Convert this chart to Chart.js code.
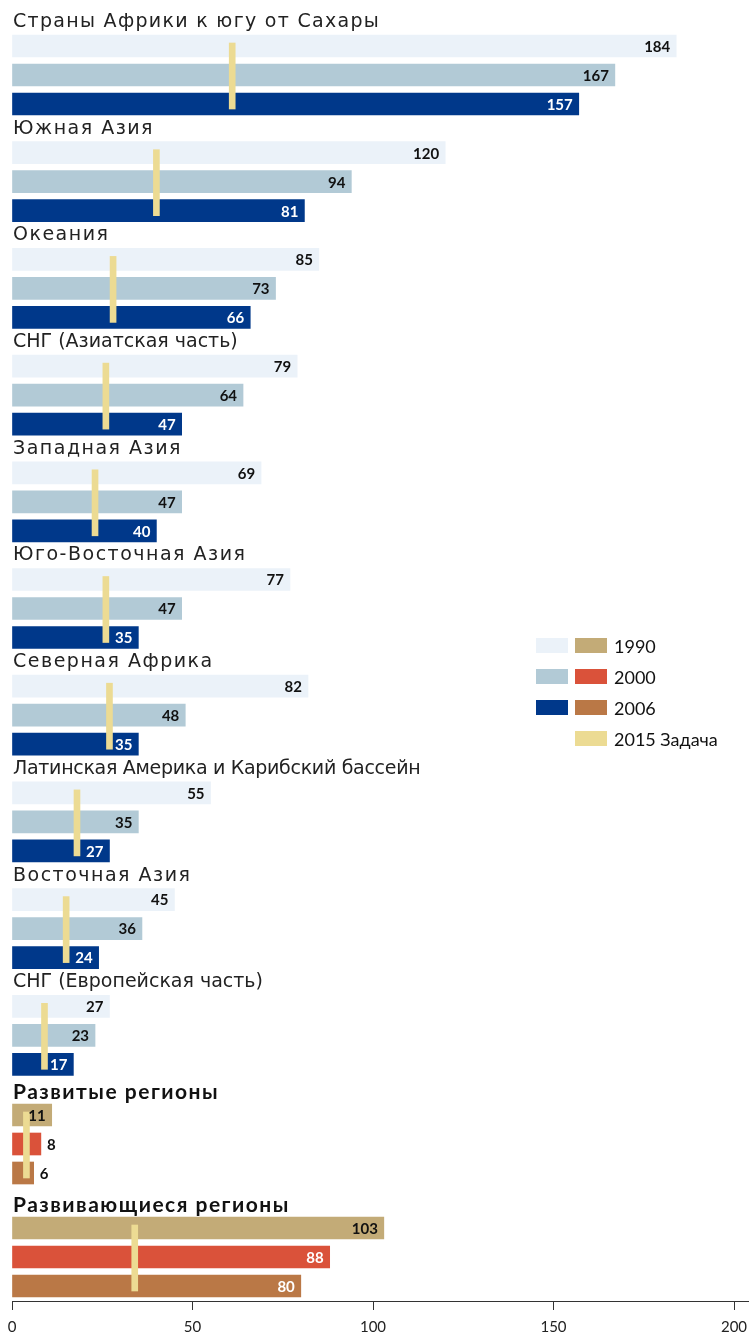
<!DOCTYPE html>
<html>
<head>
<meta charset="utf-8">
<script src="https://cdn.jsdelivr.net/npm/chart.js@4"></script>
<style>
  body { margin: 0; background: #fff; }
  #wrap { position: relative; width: 749px; height: 1336px; }
  #legend { position: absolute; left: 536px; top: 630px; font: 18px Lato, sans-serif; color: #111; }
  .row { display: flex; align-items: center; height: 31px; }
  .sw { width: 32px; height: 15px; margin-right: 7px; }
</style>
</head>
<body>
<div id="wrap">
  <canvas id="chart" width="749" height="1336"></canvas>
  <div id="legend"></div>
</div>
<script>
const regions = [
    'Страны Африки к югу от Сахары', 'Южная Азия', 'Океания', 'СНГ (Азиатская часть)',
    'Западная Азия', 'Юго-Восточная Азия', 'Северная Африка',
    'Латинская Америка и Карибский бассейн', 'Восточная Азия', 'СНГ (Европейская часть)',
    'Развитые регионы', 'Развивающиеся регионы'
];
const values1990 = [184, 120, 85, 79, 69, 77, 82, 55, 45, 27, 11, 103];
const values2000 = [167, 94, 73, 64, 47, 47, 48, 35, 36, 23, 8, 88];
const values2006 = [157, 81, 66, 47, 40, 35, 35, 27, 24, 17, 6, 80];
const target2015 = [61, 40, 28, 26, 23, 26, 27, 18, 15, 9, 4, 34];
const isAggregate = [false, false, false, false, false, false, false, false, false, false, true, true];
const seriesLabels = ['1990', '2000', '2006'];
const targetLabel = '2015 Задача';
const xTicks = [0, 50, 100, 150, 200];

// colours
const regionColors = ['#ebf2f9', '#b2cad6', '#00388a'];
const aggColors = ['#c3ab77', '#da523a', '#ba7846'];
const targetColor = '#ecdb93';
// letter spacing of the headings, as in the original
const headingSpacing = [1.3, 1.5, 1.5, 0, 1.5, 1.5, 1.5, -0.3, 1.5, 0, 1.5, 1.5];

// layout: top pixel of first bar in each group
const groupTop = regions.map((_, i) => i < 10 ? 35 + i * 106.7 : [1104, 1217][i - 10]);
const barStep = 29;

const seriesValues = [values1990, values2000, values2006];
const datasets = seriesValues.map((vals, k) => ({
    label: seriesLabels[k],
    data: vals.map((v, i) => ({ x: v, y: groupTop[i] + 11 + k * barStep })),
    backgroundColor: vals.map((v, i) => isAggregate[i] ? aggColors[k] : regionColors[k]),
    barThickness: 22,
    grouped: false,
    order: 2
}));
datasets.push({
    label: targetLabel,
    data: target2015.map((t, i) => ({ x: [t - 0.83, t + 0.83], y: groupTop[i] + 11 + barStep + 1 })),
    backgroundColor: targetColor,
    barThickness: 66,
    grouped: false,
    order: 1
});

const labelPlugin = {
    id: 'labels',
    afterDatasetsDraw(chart) {
        const c = chart.ctx;
        const xs = chart.scales.x, ys = chart.scales.y;
        c.save();
        // group headings
        regions.forEach((name, i) => {
            const y = ys.getPixelForValue(groupTop[i]) - 14;
            c.textBaseline = 'middle';
            c.textAlign = 'left';
            c.letterSpacing = headingSpacing[i] + 'px';
            if (isAggregate[i]) {
                c.font = 'bold 21px Lato';
                c.fillStyle = '#111';
                c.fillText(name, 13, y + 2);
            } else {
                c.font = '19px "DejaVu Sans"';
                c.fillStyle = '#222';
                c.fillText(name, 13, y + 1);
            }
        });
        c.letterSpacing = '0px';
        // value labels
        c.font = 'bold 15px Lato';
        seriesValues.forEach((vals, k) => {
            const meta = chart.getDatasetMeta(k);
            vals.forEach((v, i) => {
                const bar = meta.data[i];
                const dark = isAggregate[i] ? k > 0 : k === 2;
                if (v < 10) {
                    c.textAlign = 'left';
                    c.fillStyle = '#111';
                    c.fillText(v, bar.x + 6, bar.y + 1);
                } else {
                    c.textAlign = 'right';
                    c.fillStyle = dark ? '#fff' : '#111';
                    c.fillText(v, bar.x - 6, bar.y + 1);
                }
            });
        });
        // axis line runs to the right edge
        c.strokeStyle = '#333';
        c.lineWidth = 1;
        c.beginPath();
        c.moveTo(xs.left, xs.top + 0.5);
        c.lineTo(chart.width, xs.top + 0.5);
        c.stroke();
        c.restore();
    }
};

new Chart(document.getElementById('chart'), {
    type: 'bar',
    data: { datasets },
    options: {
        indexAxis: 'y',
        responsive: false,
        maintainAspectRatio: false,
        animation: false,
        layout: { padding: { left: 12, right: 15, top: 0, bottom: 0 } },
        plugins: { legend: { display: false }, tooltip: { enabled: false } },
        scales: {
            x: {
                type: 'linear',
                min: 0,
                max: 200,
                afterBuildTicks: s => { s.ticks = xTicks.map(v => ({ value: v })); },
                afterFit: s => { s.height = 35; s.paddingLeft = 0; s.paddingRight = 0; },
                ticks: { font: { family: 'Lato', size: 15 }, color: '#222', padding: 8, maxRotation: 0 },
                grid: { drawOnChartArea: false, drawTicks: true, tickLength: 9, color: '#333' },
                border: { color: '#333' }
            },
            y: {
                type: 'linear',
                display: false,
                min: 0,
                max: 1301,
                reverse: true,
                offset: false
            }
        }
    },
    plugins: [labelPlugin]
});

// legend
const legend = document.getElementById('legend');
seriesLabels.forEach((lab, k) => {
    legend.innerHTML += `<div class="row"><div class="sw" style="background:${regionColors[k]}"></div>` +
        `<div class="sw" style="background:${aggColors[k]}"></div><span>${lab}</span></div>`;
});
legend.innerHTML += `<div class="row"><div class="sw"></div><div class="sw" style="background:${targetColor}"></div><span>${targetLabel}</span></div>`;
</script>
</body>
</html>
